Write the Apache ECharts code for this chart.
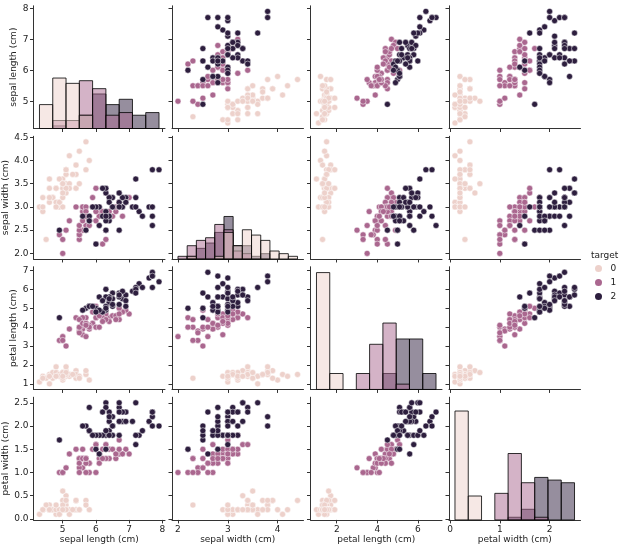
<!DOCTYPE html>
<html><head><meta charset="utf-8">
<script src="https://cdn.jsdelivr.net/npm/echarts@6/dist/echarts.min.js"></script>
<style>html,body{margin:0;padding:0;background:#fff}#c{width:633px;height:557px}</style>
</head><body><div id="c"></div>
<script>
// ---- data (iris, by target class) ----
const featureNames = ['sepal length (cm)', 'sepal width (cm)', 'petal length (cm)', 'petal width (cm)'];
const targetNames = ['0', '1', '2'];
const sepalLength0 = [5.1,4.9,4.7,4.6,5.0,5.4,4.6,5.0,4.4,4.9,5.4,4.8,4.8,4.3,5.8,5.7,5.4,5.1,5.7,5.1,5.4,5.1,4.6,5.1,4.8,5.0,5.0,5.2,5.2,4.7,4.8,5.4,5.2,5.5,4.9,5.0,5.5,4.9,4.4,5.1,5.0,4.5,4.4,5.0,5.1,4.8,5.1,4.6,5.3,5.0];
const sepalWidth0  = [3.5,3.0,3.2,3.1,3.6,3.9,3.4,3.4,2.9,3.1,3.7,3.4,3.0,3.0,4.0,4.4,3.9,3.5,3.8,3.8,3.4,3.7,3.6,3.3,3.4,3.0,3.4,3.5,3.4,3.2,3.1,3.4,4.1,4.2,3.1,3.2,3.5,3.6,3.0,3.4,3.5,2.3,3.2,3.5,3.8,3.0,3.8,3.2,3.7,3.3];
const petalLength0 = [1.4,1.4,1.3,1.5,1.4,1.7,1.4,1.5,1.4,1.5,1.5,1.6,1.4,1.1,1.2,1.5,1.3,1.4,1.7,1.5,1.7,1.5,1.0,1.7,1.9,1.6,1.6,1.5,1.4,1.6,1.6,1.5,1.5,1.4,1.5,1.2,1.3,1.4,1.3,1.5,1.3,1.3,1.3,1.6,1.9,1.4,1.6,1.4,1.5,1.4];
const petalWidth0  = [0.2,0.2,0.2,0.2,0.2,0.4,0.3,0.2,0.2,0.1,0.2,0.2,0.1,0.1,0.2,0.4,0.4,0.3,0.3,0.3,0.2,0.4,0.2,0.5,0.2,0.2,0.4,0.2,0.2,0.2,0.2,0.4,0.1,0.2,0.2,0.2,0.2,0.1,0.2,0.2,0.3,0.3,0.2,0.6,0.4,0.3,0.2,0.2,0.2,0.2];
const sepalLength1 = [7.0,6.4,6.9,5.5,6.5,5.7,6.3,4.9,6.6,5.2,5.0,5.9,6.0,6.1,5.6,6.7,5.6,5.8,6.2,5.6,5.9,6.1,6.3,6.1,6.4,6.6,6.8,6.7,6.0,5.7,5.5,5.5,5.8,6.0,5.4,6.0,6.7,6.3,5.6,5.5,5.5,6.1,5.8,5.0,5.6,5.7,5.7,6.2,5.1,5.7];
const sepalWidth1  = [3.2,3.2,3.1,2.3,2.8,2.8,3.3,2.4,2.9,2.7,2.0,3.0,2.2,2.9,2.9,3.1,3.0,2.7,2.2,2.5,3.2,2.8,2.5,2.8,2.9,3.0,2.8,3.0,2.9,2.6,2.4,2.4,2.7,2.7,3.0,3.4,3.1,2.3,3.0,2.5,2.6,3.0,2.6,2.3,2.7,3.0,2.9,2.9,2.5,2.8];
const petalLength1 = [4.7,4.5,4.9,4.0,4.6,4.5,4.7,3.3,4.6,3.9,3.5,4.2,4.0,4.7,3.6,4.4,4.5,4.1,4.5,3.9,4.8,4.0,4.9,4.7,4.3,4.4,4.8,5.0,4.5,3.5,3.8,3.7,3.9,5.1,4.5,4.5,4.7,4.4,4.1,4.0,4.4,4.6,4.0,3.3,4.2,4.2,4.2,4.3,3.0,4.1];
const petalWidth1  = [1.4,1.5,1.5,1.3,1.5,1.3,1.6,1.0,1.3,1.4,1.0,1.5,1.0,1.4,1.3,1.4,1.5,1.0,1.5,1.1,1.8,1.3,1.5,1.2,1.3,1.4,1.4,1.7,1.5,1.0,1.1,1.0,1.2,1.6,1.5,1.6,1.5,1.3,1.3,1.3,1.2,1.4,1.2,1.0,1.3,1.2,1.3,1.3,1.1,1.3];
const sepalLength2 = [6.3,5.8,7.1,6.3,6.5,7.6,4.9,7.3,6.7,7.2,6.5,6.4,6.8,5.7,5.8,6.4,6.5,7.7,7.7,6.0,6.9,5.6,7.7,6.3,6.7,7.2,6.2,6.1,6.4,7.2,7.4,7.9,6.4,6.3,6.1,7.7,6.3,6.4,6.0,6.9,6.7,6.9,5.8,6.8,6.7,6.7,6.3,6.5,6.2,5.9];
const sepalWidth2  = [3.3,2.7,3.0,2.9,3.0,3.0,2.5,2.9,2.5,3.6,3.2,2.7,3.0,2.5,2.8,3.2,3.0,3.8,2.6,2.2,3.2,2.8,2.8,2.7,3.3,3.2,2.8,3.0,2.8,3.0,2.8,3.8,2.8,2.8,2.6,3.0,3.4,3.1,3.0,3.1,3.1,3.1,2.7,3.2,3.3,3.0,2.5,3.0,3.4,3.0];
const petalLength2 = [6.0,5.1,5.9,5.6,5.8,6.6,4.5,6.3,5.8,6.1,5.1,5.3,5.5,5.0,5.1,5.3,5.5,6.7,6.9,5.0,5.7,4.9,6.7,4.9,5.7,6.0,4.8,4.9,5.6,5.8,6.1,6.4,5.6,5.1,5.6,6.1,5.6,5.5,4.8,5.4,5.6,5.1,5.1,5.9,5.7,5.2,5.0,5.2,5.4,5.1];
const petalWidth2  = [2.5,1.9,2.1,1.8,2.2,2.1,1.7,1.8,1.8,2.5,2.0,1.9,2.1,2.0,2.4,2.3,1.8,2.2,2.3,1.5,2.3,2.0,2.0,1.8,2.1,1.8,1.8,1.8,2.1,1.6,1.9,2.0,2.2,1.5,1.4,2.3,2.4,1.8,1.8,2.1,2.4,2.3,1.9,2.3,2.5,2.3,1.9,2.0,2.3,1.8];

// tick labels per feature
const xTicks = [[5, 6, 7, 8], [2, 3, 4], [2, 4, 6], [0, 1, 2]];
const yTicks = [[5, 6, 7, 8], [2.0, 2.5, 3.0, 3.5, 4.0, 4.5], [1, 2, 3, 4, 5, 6, 7], [0.0, 0.5, 1.0, 1.5, 2.0, 2.5]];
const yTickDecimals = [0, 1, 0, 1];
const histBinCount = [9, 13, 9, 9];

// ---- build ----
const byClass = [
  [sepalLength0, sepalWidth0, petalLength0, petalWidth0],
  [sepalLength1, sepalWidth1, petalLength1, petalWidth1],
  [sepalLength2, sepalWidth2, petalLength2, petalWidth2]
];
const colors = ['#edd1cb', '#aa678f', '#2d1e3e'];
const colorsA = ['rgba(237,209,203,0.5)', 'rgba(170,103,143,0.5)', 'rgba(45,30,62,0.5)'];
const FONT = 'DejaVu Sans';
const TXT = '#222';
const AX = '#333';
const fs = 9;

const ranges = [0, 1, 2, 3].map(f => {
  const all = byClass[0][f].concat(byClass[1][f], byClass[2][f]);
  const mn = Math.min(...all), mx = Math.max(...all);
  return {mn, mx, lo: mn - 0.05 * (mx - mn), hi: mx + 0.05 * (mx - mn)};
});

// histogram (numpy-like edges and counting)
const hist = [0, 1, 2, 3].map(f => {
  const {mn, mx} = ranges[f];
  const n = histBinCount[f];
  const step = (mx - mn) / n;
  const edges = [];
  for (let i = 0; i <= n; i++) edges.push(i * step + mn);
  edges[n] = mx;
  return [0, 1, 2].map(k => {
    const cnt = new Array(n).fill(0);
    byClass[k][f].forEach(v => {
      for (let i = 0; i < n; i++) {
        if (v >= edges[i] && (v < edges[i + 1] || (i === n - 1 && v <= edges[n]))) { cnt[i]++; break; }
      }
    });
    return cnt.map((c, i) => [edges[i], edges[i + 1], c]).filter(d => d[2] > 0);
  });
});
let histMax = 0;
hist.forEach(h => h.forEach(s => s.forEach(d => { if (d[2] > histMax) histMax = d[2]; })));

const GL = 33.5, GT = 5.8, GW = 131.5, GH = 122.7, SX = 138.5, SY = 130.47;
const grid = [], xAxis = [], yAxis = [], series = [];

function axisCommon(gi, lo, hi, ticks, showLabel, fmt) {
  return {
    type: 'value', gridIndex: gi, min: lo, max: hi, splitLine: {show: false},
    axisLine: {show: true, onZero: false, lineStyle: {color: AX, width: 1}},
    axisTick: {show: true, customValues: ticks, length: 3.5, inside: false, lineStyle: {color: AX, width: 1}},
    axisLabel: {show: showLabel, customValues: ticks, formatter: fmt, fontSize: fs, color: TXT, fontFamily: FONT, margin: 5},
    nameTextStyle: {fontSize: fs, color: TXT, fontFamily: FONT}
  };
}

for (let r = 0; r < 4; r++) {
  for (let c = 0; c < 4; c++) {
    const gi = r * 4 + c;
    grid.push({left: GL + c * SX, top: GT + r * SY, width: GW, height: GH});
    const xa = axisCommon(gi, ranges[c].lo, ranges[c].hi, xTicks[c], r === 3, v => String(Math.round(v)));
    if (r === 3) { xa.name = featureNames[c]; xa.nameLocation = 'middle'; xa.nameGap = 15; }
    xAxis.push(xa);
    const dec = yTickDecimals[r];
    const ya = axisCommon(gi, ranges[r].lo, ranges[r].hi, yTicks[r], c === 0, v => v.toFixed(dec));
    if (c === 0) { ya.name = featureNames[r]; ya.nameLocation = 'middle'; ya.nameGap = dec ? 22 : 15; ya.nameRotate = 90; }
    yAxis.push(ya);
  }
}
// hidden count axes for diagonal histograms
for (let d = 0; d < 4; d++) {
  yAxis.push({type: 'value', gridIndex: d * 5, min: 0, max: histMax * 1.05, show: false, splitLine: {show: false}});
}

for (let r = 0; r < 4; r++) {
  for (let c = 0; c < 4; c++) {
    const gi = r * 4 + c;
    if (r === c) {
      [2, 1, 0].forEach(k => {
        series.push({
          type: 'custom', name: 'hist' + k, xAxisIndex: gi, yAxisIndex: 16 + r, silent: true,
          data: hist[r][k], encode: {x: [0, 1], y: 2},
          renderItem: (params, api) => {
            const p0 = api.coord([api.value(0), api.value(2)]);
            const p1 = api.coord([api.value(1), 0]);
            return {type: 'rect', shape: {x: p0[0], y: p0[1], width: p1[0] - p0[0], height: p1[1] - p0[1]},
              style: {fill: colorsA[k], stroke: 'rgba(0,0,0,0.8)', lineWidth: 1}};
          }
        });
      });
    } else {
      [0, 1, 2].forEach(k => {
        const xs = byClass[k][c], ys = byClass[k][r];
        series.push({
          type: 'scatter', name: targetNames[k], xAxisIndex: gi, yAxisIndex: gi, silent: true,
          symbol: 'circle', symbolSize: 6,
          itemStyle: {color: colors[k], borderColor: '#fff', borderWidth: 0.5, opacity: 1},
          data: xs.map((x, i) => [x, ys[i]])
        });
      });
    }
  }
}

const chart = echarts.init(document.getElementById('c'), null, {renderer: 'canvas'});
chart.setOption({
  animation: false,
  backgroundColor: '#fff',
  title: {text: 'target', left: 591, top: 251, textStyle: {fontSize: fs, fontWeight: 'normal', color: TXT, fontFamily: FONT}, padding: 0},
  legend: {
    orient: 'vertical', left: 595, top: 264, itemWidth: 10, itemHeight: 7, itemGap: 5, icon: 'circle', selectedMode: false,
    padding: 0,
    textStyle: {fontSize: fs, color: TXT, fontFamily: FONT, padding: [0, 0, 0, 2]},
    data: targetNames.map((n, k) => ({name: n, itemStyle: {color: colors[k], borderColor: '#fff', borderWidth: 0}}))
  },
  grid, xAxis, yAxis, series
});
</script></body></html>
